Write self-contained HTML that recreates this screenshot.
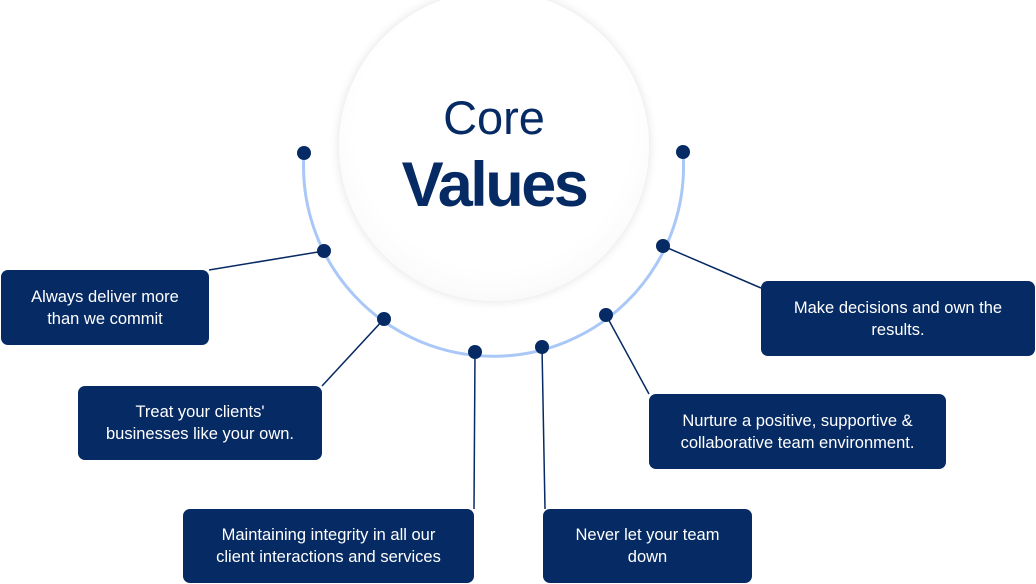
<!DOCTYPE html>
<html><head><meta charset="utf-8"><style>
body{margin:0;width:1036px;height:584px;background:#fff;position:relative;overflow:hidden;font-family:"Liberation Sans",sans-serif}
.box{position:absolute;background:#062a63;border-radius:7px;color:#fff;font-size:16.5px;line-height:22px;display:flex;align-items:center;justify-content:center;text-align:center}
.circle{position:absolute;left:339px;top:-9px;width:310px;height:310px;border-radius:50%;background:radial-gradient(circle at 50% 45%,#fff 60%,#f1f1f3 100%);box-shadow:0 0 10px rgba(0,0,0,0.12)}
.t{position:absolute;left:0;width:100%;text-align:center;color:#062a63}
</style></head><body>
<svg width="1036" height="584" style="position:absolute;left:0;top:0">
<path d="M304 153 A190 190 0 1 0 683 152" fill="none" stroke="#a9c8f7" stroke-width="3"/>
<g stroke="#062a63" stroke-width="1.5">
<line x1="324" y1="251" x2="209" y2="270"/>
<line x1="384" y1="319" x2="322" y2="386"/>
<line x1="475" y1="352" x2="474" y2="509"/>
<line x1="542" y1="347" x2="545" y2="509"/>
<line x1="606" y1="315" x2="649" y2="394"/>
<line x1="663" y1="246" x2="761" y2="288"/>
</g>
<g fill="#062a63">
<circle cx="304" cy="153" r="7"/>
<circle cx="324" cy="251" r="7"/>
<circle cx="384" cy="319" r="7"/>
<circle cx="475" cy="352" r="7"/>
<circle cx="542" cy="347" r="7"/>
<circle cx="606" cy="315" r="7"/>
<circle cx="663" cy="246" r="7"/>
<circle cx="683" cy="152" r="7"/>
</g></svg>
<div class="circle">
<div class="t" style="top:99px;font-size:47px">Core</div>
<div class="t" style="top:158px;font-size:63px;font-weight:bold;letter-spacing:-2.5px">Values</div>
</div>
<div class="box" style="left:1px;top:270px;width:208px;height:75px">Always deliver more<br>than we commit</div>
<div class="box" style="left:78px;top:386px;width:244px;height:74px">Treat your clients'<br>businesses like your own.</div>
<div class="box" style="left:183px;top:509px;width:291px;height:74px">Maintaining integrity in all our<br>client interactions and services</div>
<div class="box" style="left:543px;top:509px;width:209px;height:74px">Never let your team<br>down</div>
<div class="box" style="left:649px;top:394px;width:297px;height:75px">Nurture a positive, supportive &amp;<br>collaborative team environment.</div>
<div class="box" style="left:761px;top:281px;width:274px;height:75px">Make decisions and own the<br>results.</div>
</body></html>
